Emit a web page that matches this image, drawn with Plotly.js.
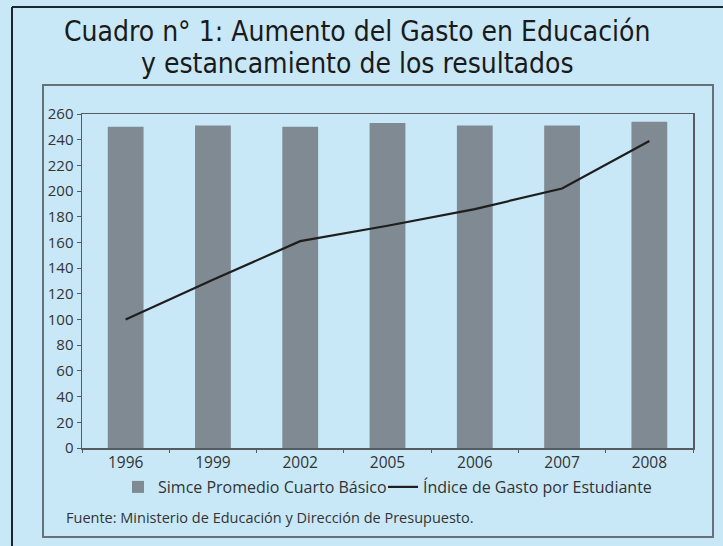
<!DOCTYPE html>
<html>
<head>
<meta charset="utf-8">
<script src="https://cdn.plot.ly/plotly-3.0.1.min.js"></script>
<style>
  html, body { margin: 0; padding: 0; background: #C8E8F8; }
  #chart { width: 723px; height: 546px; }
</style>
</head>
<body>
<div id="chart"></div>
<script>
// ---- Data ----
const years = ["1996", "1999", "2002", "2005", "2006", "2007", "2008"];
const simceValues = [250, 251, 250, 253, 251, 251, 254];
const gastoIndex = [100, 131, 161, 173, 186, 202, 239];
const yTickValues = [0, 20, 40, 60, 80, 100, 120, 140, 160, 180, 200, 220, 240, 260];

const seriesNames = ["Simce Promedio Cuarto Básico", "Índice de Gasto por Estudiante"];
const titleLines = ["Cuadro n° 1: Aumento del Gasto en Educación", "y estancamiento de los resultados"];
const sourceText = "Fuente: Ministerio de Educación y Dirección de Presupuesto.";

// ---- Style ----
const bg = "#C8E8F8";
const textFont = "Open Sans, Noto Sans, sans-serif";
const titleFont = "DejaVu Sans Condensed, DejaVu Sans, sans-serif";

const traces = [
  {
    type: "bar",
    x: years,
    y: simceValues,
    name: seriesNames[0],
    legend: "legend",
    marker: { color: "#7F8A92", line: { width: 0 } },
    hoverinfo: "x+y"
  },
  {
    type: "scatter",
    mode: "lines",
    x: years,
    y: gastoIndex,
    name: seriesNames[1],
    legend: "legend2",
    line: { color: "#1E1E1E", width: 2.2 },
    hoverinfo: "x+y"
  }
];

// plot area: x 82..693, y 114..448 (pixels)
const L = 82, R = 693, T = 114, B = 448;
const px = v => (v - L) / (R - L);
const py = v => (B - v) / (B - T);

const legendBase = {
  orientation: "h",
  xanchor: "left",
  y: py(487),
  yanchor: "middle",
  bgcolor: "rgba(0,0,0,0)",
  font: { family: textFont, size: 16, color: "#333333" },
  itemwidth: 30
};

const layout = {
  width: 723,
  height: 546,
  margin: { l: L, r: 723 - R, t: T, b: 546 - B, pad: 0 },
  paper_bgcolor: bg,
  plot_bgcolor: bg,
  bargap: 0.59,
  showlegend: true,
  xaxis: {
    type: "category",
    range: [-0.5, 6.5],
    showline: true,
    linecolor: "#555B60",
    linewidth: 1.5,
    mirror: true,
    showgrid: false,
    zeroline: false,
    ticks: "outside",
    tickson: "boundaries",
    ticklen: 3,
    tickcolor: "#555B60",
    tickfont: { family: textFont, size: 15.5, color: "#333333" },
    fixedrange: true
  },
  yaxis: {
    range: [0, 260],
    tickvals: yTickValues,
    ticktext: yTickValues.map(String),
    showline: true,
    linecolor: "#555B60",
    linewidth: 1.5,
    mirror: true,
    showgrid: false,
    zeroline: false,
    ticks: "outside",
    ticklen: 4,
    tickcolor: "#555B60",
    tickfont: { family: textFont, size: 15, color: "#333333" },
    fixedrange: true
  },
  legend: Object.assign({}, legendBase, { x: px(118) }),
  legend2: Object.assign({}, legendBase, { x: px(383) }),
  annotations: [
    {
      text: titleLines[0],
      xref: "paper", yref: "paper",
      x: px(357), y: py(31),
      xanchor: "center", yanchor: "middle",
      showarrow: false,
      font: { family: titleFont, size: 28, color: "#1a1a1a" }
    },
    {
      text: titleLines[1],
      xref: "paper", yref: "paper",
      x: px(357), y: py(63),
      xanchor: "center", yanchor: "middle",
      showarrow: false,
      font: { family: titleFont, size: 28, color: "#1a1a1a" }
    },
    {
      text: sourceText,
      xref: "paper", yref: "paper",
      x: px(64), y: py(517),
      xanchor: "left", yanchor: "middle",
      showarrow: false,
      font: { family: textFont, size: 14.5, color: "#333333" }
    }
  ],
  shapes: [
    // inner frame
    {
      type: "rect", xref: "paper", yref: "paper",
      x0: px(43), x1: px(713), y0: py(537), y1: py(85),
      line: { color: "#66717A", width: 2 },
      layer: "below"
    },
    // outer top border
    {
      type: "line", xref: "paper", yref: "paper",
      x0: px(12), x1: px(725), y0: py(7), y1: py(7),
      line: { color: "#1B2730", width: 2 }
    },
    // outer left border
    {
      type: "line", xref: "paper", yref: "paper",
      x0: px(12), x1: px(12), y0: py(7), y1: py(550),
      line: { color: "#1B2730", width: 2 }
    }
  ]
};

Plotly.newPlot("chart", traces, layout, { displayModeBar: false, staticPlot: true });
</script>
</body>
</html>
